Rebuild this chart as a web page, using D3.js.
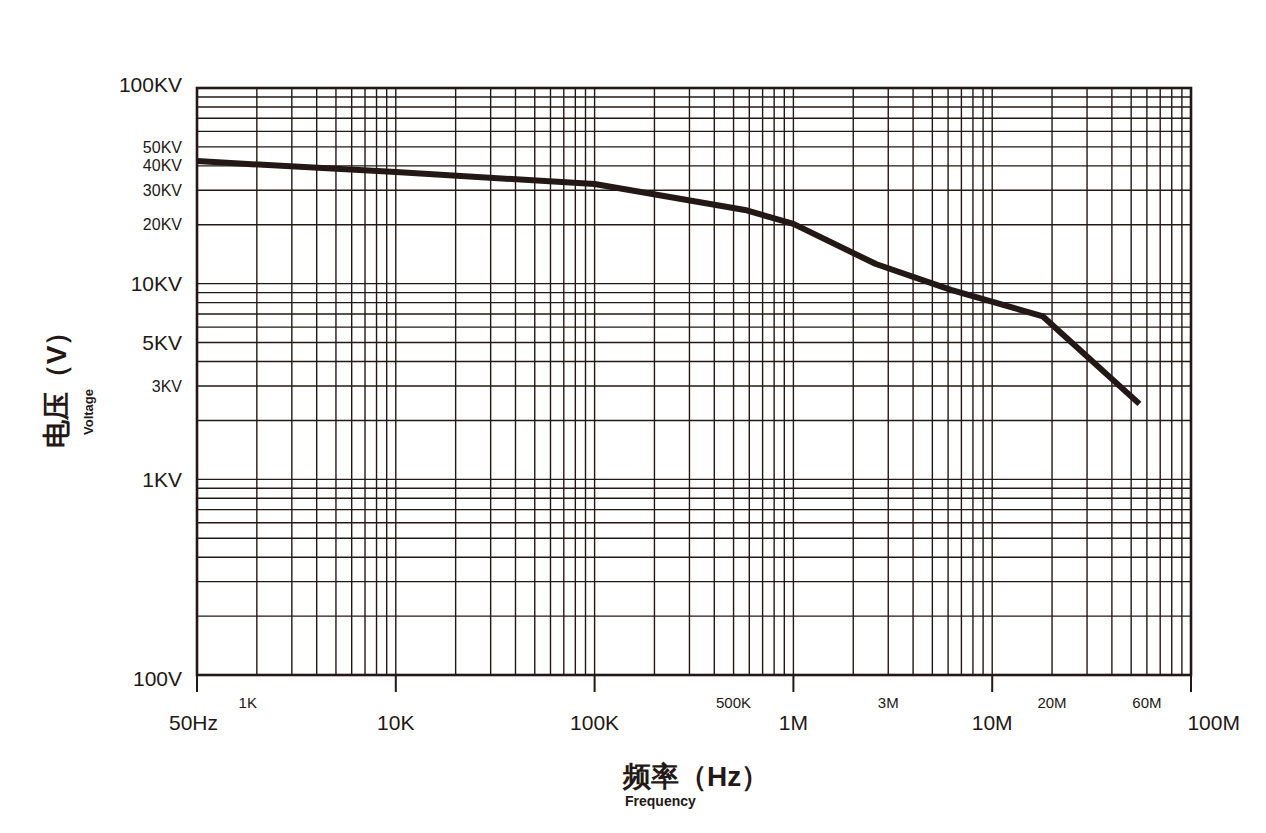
<!DOCTYPE html>
<html>
<head>
<meta charset="utf-8">
<script src="https://cdn.jsdelivr.net/npm/d3@7"></script>
<style>
  body { margin: 0; background: #fff; }
  text { font-family: "Liberation Sans", Arial, sans-serif; fill: #231815; }
</style>
</head>
<body>
<svg id="chart" width="1266" height="833"></svg>
<script>
// curve (frequency Hz, voltage V)
const freqs    = [1e3, 1.8e3, 1e4, 1e5, 5.7e5, 1e6, 2.6e6, 6.2e6, 1.8e7, 5.5e7];
const voltages = [42400, 40900, 37200, 32300, 23800, 20200, 12600, 9300, 6800, 2430];

// tick labels: value on the scale + text, big or small
const xTickValues = [1e3, 1.8e3, 1e4, 1e5, 5e5, 1e6, 3e6, 1e7, 2e7, 6e7, 1.3e8];
const xTickLabels = ["50Hz", "1K", "10K", "100K", "500K", "1M", "3M", "10M", "20M", "60M", "100M"];
const xTickSmall  = [false, true, false, false, true, false, true, false, true, true, false];

const yTickValues = [1e5, 5e4, 4e4, 3e4, 2e4, 1e4, 5e3, 3e3, 1e3, 100];
const yTickLabels = ["100KV", "50KV", "40KV", "30KV", "20KV", "10KV", "5KV", "3KV", "1KV", "100V"];
const yTickSmall  = [false, true, true, true, true, false, false, true, false, false];

const ink = "#231815";
const svg = d3.select("#chart");
const mLeft = 197, mRight = 1191, mTop = 88, mBottom = 675;

const x = d3.scaleLog().domain([1e3, 1e8]).range([mLeft, mRight]);
const y = d3.scaleLog().domain([100, 1e5]).range([mBottom, mTop]);

// gridlines: every 1..9 per decade
const grid = svg.append("g").attr("stroke", ink).attr("stroke-width", 1.4);
const xGrid = [];
for (let e = 3; e < 8; e++) for (let m = 1; m < 10; m++) xGrid.push(m * 10 ** e);
const yGrid = [];
for (let e = 2; e < 5; e++) for (let m = 1; m < 10; m++) yGrid.push(m * 10 ** e);

grid.selectAll("line.vx").data(xGrid).join("line")
  .attr("x1", d => x(d)).attr("x2", d => x(d))
  .attr("y1", mTop).attr("y2", mBottom);
grid.selectAll("line.hy").data(yGrid).join("line")
  .attr("x1", mLeft).attr("x2", mRight)
  .attr("y1", d => y(d)).attr("y2", d => y(d));

// decade ticks below axis
svg.append("g").attr("stroke", ink).attr("stroke-width", 2)
  .selectAll("line").data([1e3, 1e4, 1e5, 1e6, 1e7, 1e8]).join("line")
  .attr("x1", d => x(d)).attr("x2", d => x(d))
  .attr("y1", mBottom).attr("y2", mBottom + 17);

// frame
svg.append("rect")
  .attr("x", mLeft).attr("y", mTop)
  .attr("width", mRight - mLeft).attr("height", mBottom - mTop)
  .attr("fill", "none").attr("stroke", ink).attr("stroke-width", 2.6);

// curve
const line = d3.line().x((d, i) => x(freqs[i])).y(d => y(d));
svg.append("path")
  .attr("d", line(voltages))
  .attr("fill", "none").attr("stroke", ink)
  .attr("stroke-width", 6).attr("stroke-linejoin", "round");

// x tick labels
svg.append("g").selectAll("text").data(xTickValues).join("text")
  .attr("x", d => x(d))
  .attr("y", (d, i) => xTickSmall[i] ? 708 : 730)
  .attr("text-anchor", (d, i) => i === 0 ? "start" : "middle")
  .attr("dx", (d, i) => i === 0 ? -28 : 0)
  .attr("font-size", (d, i) => xTickSmall[i] ? 15 : 21)
  .attr("fill", "#333")
  .text((d, i) => xTickLabels[i]);

// y tick labels
svg.append("g").selectAll("text").data(yTickValues).join("text")
  .attr("x", 182)
  .attr("y", d => y(d))
  .attr("dy", (d, i) => i === 0 ? "0.2em" : i === yTickValues.length - 1 ? "0.5em" : "0.35em")
  .attr("text-anchor", "end")
  .attr("font-size", (d, i) => yTickSmall[i] ? 16 : 21)
  .attr("fill", "#333")
  .text((d, i) => yTickLabels[i]);

// axis titles
svg.append("text")
  .attr("transform", "translate(66,383) rotate(-90)")
  .attr("text-anchor", "middle")
  .attr("font-family", "Noto Sans CJK SC")
  .attr("font-size", 28).attr("font-weight", 700)
  .text("电压（V）");
svg.append("text")
  .attr("transform", "translate(93,412) rotate(-90)")
  .attr("text-anchor", "middle")
  .attr("font-family", "Noto Sans")
  .attr("font-size", 13).attr("font-weight", 700)
  .text("Voltage");

svg.append("text")
  .attr("x", 623).attr("y", 786)
  .attr("font-family", "Noto Sans CJK SC")
  .attr("font-size", 28).attr("font-weight", 700)
  .text("频率（Hz）");
svg.append("text")
  .attr("x", 625).attr("y", 806)
  .attr("font-family", "Noto Sans")
  .attr("font-size", 14).attr("font-weight", 700)
  .text("Frequency");
</script>
</body>
</html>
